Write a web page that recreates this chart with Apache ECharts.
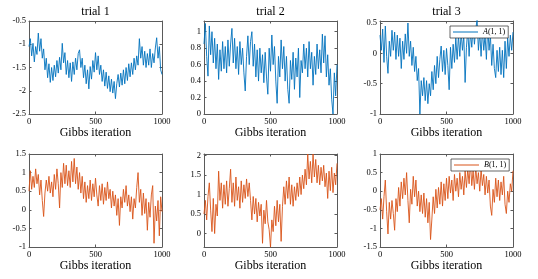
<!DOCTYPE html>
<html><head><meta charset="utf-8">
<script src="https://cdn.jsdelivr.net/npm/echarts@6/dist/echarts.min.js"></script>
<style>html,body{margin:0;padding:0;background:#fff}#c{width:538px;height:279px}</style>
</head><body><div id="c"></div>
<script>
const trialTitles = ['trial 1', 'trial 2', 'trial 3'];
const xLabel = 'Gibbs iteration';
const xTicks = [0, 500, 1000];
const seriesNames = ['A(1,1)', 'B(1,1)'];

// sampled every 10 Gibbs iterations (0..1000)
const A_trial1 = [-1.05,-0.88,-1.25,-0.98,-1.38,-1.05,-1.22,-0.76,-1.15,-0.88,-1.30,-1.10,-1.55,-1.30,-1.72,-1.42,-1.82,-1.50,-1.78,-1.45,-1.70,-1.35,-1.62,-1.28,-1.55,-0.98,-1.40,-1.18,-1.65,-1.35,-1.72,-1.40,-1.80,-1.38,-1.65,-1.30,-1.55,-1.20,-1.12,-1.50,-1.30,-1.72,-1.45,-1.85,-1.55,-1.96,-1.48,-1.75,-1.35,-1.60,-1.18,-1.55,-1.25,-1.65,-1.45,-1.80,-1.55,-1.90,-1.60,-1.95,-1.68,-2.02,-1.75,-2.05,-1.80,-2.17,-1.85,-1.65,-1.92,-1.62,-1.88,-1.55,-1.85,-1.50,-1.78,-1.42,-1.70,-1.40,-1.65,-1.30,-1.55,-1.25,-1.45,-0.88,-1.30,-1.05,-1.45,-1.15,-1.50,-1.20,-1.45,-1.10,-1.50,-1.20,-1.40,-1.08,-0.86,-1.30,-1.05,-1.55,-1.65];
const A_trial2 = [0.85,1.10,0.70,0.46,1.07,0.72,1.00,0.62,0.92,0.55,0.85,0.42,0.78,0.52,0.88,0.55,0.82,0.50,0.90,0.58,0.85,1.04,0.62,0.92,0.55,0.82,0.48,0.88,0.60,0.80,0.50,0.28,0.70,0.95,0.60,0.88,1.00,0.58,0.85,0.45,0.78,0.40,0.80,0.50,0.72,0.38,0.75,0.45,0.24,0.80,0.52,0.96,0.60,0.82,0.40,0.13,0.70,0.45,0.90,0.55,0.82,0.40,0.70,0.30,0.13,0.65,0.42,0.75,0.30,0.68,0.45,0.80,0.20,0.65,0.50,0.85,0.55,0.80,0.45,0.88,0.55,0.75,0.35,0.70,0.48,0.85,0.55,0.78,0.50,0.97,0.62,0.95,0.45,0.72,0.35,0.55,0.18,0.00,0.50,0.22,0.60];
const A_trial3 = [0.30,0.05,0.40,-0.15,0.45,-0.05,-0.33,0.20,-0.05,0.38,0.05,0.35,-0.10,0.30,-0.05,0.25,-0.25,0.20,-0.10,0.32,0.00,0.50,-0.05,0.20,-0.20,0.10,-0.30,-0.05,-0.45,-0.25,-1.00,-0.45,-0.70,-0.40,-0.78,-0.45,-0.83,-0.50,-0.70,-0.30,-0.60,-0.20,-0.50,-0.05,-0.40,-0.10,0.12,-0.30,0.05,-0.35,0.08,-0.20,-0.60,0.10,-0.25,0.15,-0.15,0.25,-0.10,0.30,-0.05,0.35,0.05,0.30,-0.48,0.10,0.40,-0.05,0.35,0.10,0.45,0.15,0.40,0.55,0.05,0.35,-0.05,0.40,0.05,0.30,-0.10,0.45,0.05,0.30,-0.20,0.15,-0.25,-0.40,0.05,-0.30,0.10,-0.35,0.05,-0.40,0.20,-0.25,0.25,-0.05,0.30,0.05,0.35];
const B_trial1 = [0.50,1.05,0.55,0.90,0.60,1.10,0.70,0.95,0.40,0.80,0.25,-0.18,0.45,0.80,0.50,0.90,0.45,0.75,0.35,0.95,0.55,1.10,0.70,0.05,1.00,0.60,1.25,0.70,1.20,0.65,1.05,0.60,1.30,0.75,1.38,0.70,1.15,0.55,1.00,0.45,0.90,0.30,0.75,0.20,0.65,0.30,0.80,0.25,0.70,0.35,0.85,0.40,0.10,0.65,0.25,0.70,0.15,0.60,0.25,0.75,0.30,0.55,0.05,0.50,0.10,0.40,-0.15,0.30,-0.42,0.35,0.05,0.55,0.20,0.65,0.10,0.40,-0.05,0.35,-0.25,0.30,0.05,0.60,1.00,0.20,0.55,-0.15,0.45,-0.10,0.30,-0.55,0.20,-0.20,0.40,0.65,-0.90,0.10,-0.30,0.25,-0.70,0.35,-0.05];
const B_trial2 = [0.50,0.85,0.35,0.95,1.30,0.60,0.05,0.90,0.00,0.75,0.45,1.60,0.85,1.30,0.65,1.25,0.75,1.35,0.70,1.15,1.65,0.80,1.30,0.70,1.45,0.85,1.20,0.65,1.35,0.80,1.25,0.90,1.40,0.95,1.30,0.85,0.35,0.95,0.50,0.90,0.30,0.80,0.45,0.75,-0.25,0.60,0.25,0.85,0.30,0.10,-0.35,0.35,0.05,0.70,0.20,0.85,0.30,0.75,-0.20,0.70,1.20,0.75,1.35,0.90,1.45,0.75,1.25,0.70,1.20,0.85,1.30,0.95,1.45,1.00,1.50,1.15,1.65,1.25,2.04,1.40,1.85,1.30,2.04,1.45,1.90,1.30,1.75,1.25,1.70,1.35,1.75,1.20,1.55,0.90,1.60,1.10,1.70,1.05,1.55,1.25,1.80];
const B_trial3 = [-0.50,-0.20,-0.75,-0.15,0.30,-0.55,-1.15,-0.30,-0.75,-0.25,-0.60,-1.05,-0.20,-0.55,0.10,-0.40,0.25,-0.20,0.35,-0.10,0.50,-0.25,-0.85,0.05,-0.35,0.40,-0.15,0.30,-0.40,0.00,-0.55,-0.10,-0.60,-0.05,-0.70,-0.20,-0.85,-0.30,-1.30,-0.75,-0.15,-0.60,0.05,-0.45,0.10,-0.35,0.25,-0.40,0.20,-0.25,0.35,-0.20,0.40,-0.05,0.30,-0.25,0.45,0.00,0.35,-0.15,0.50,0.05,0.40,-0.10,0.55,0.10,0.60,0.20,0.80,0.15,0.55,0.05,0.65,0.20,0.50,0.00,0.60,0.15,0.45,-0.10,0.40,-0.05,0.30,-0.40,-0.65,0.05,-0.30,0.35,-0.15,0.30,-0.25,0.25,-0.10,0.40,-0.35,-0.60,0.00,-0.30,0.20,0.00,0.55];

const iterations = A_trial1.map((_, i) => i * 10);

const yTicks = [
  [-2.5, -2, -1.5, -1, -0.5], [0, 0.2, 0.4, 0.6, 0.8, 1], [-1, -0.5, 0, 0.5],
  [-1, -0.5, 0, 0.5, 1, 1.5], [0, 0.5, 1, 1.5, 2], [-1.5, -1, -0.5, 0, 0.5, 1]
];
const yLimits = [[-2.5, -0.5], [0, 1.13], [-1, 0.533], [-1, 1.5], [-0.345, 2.04], [-1.5, 1]];

const panelData = [A_trial1, A_trial2, A_trial3, B_trial1, B_trial2, B_trial3];
const colors = ['#0072BD', '#D95319'];
const FONT = 'Liberation Serif';
const AX = '#5a5a5a';

const colLeft = [29, 204, 380];
const rowTop = [21, 154];
const W = 133, H = 93;
const plain = v => String(v);

const grid = [], xAxis = [], yAxis = [], series = [];
for (let p = 0; p < 6; p++) {
  const r = Math.floor(p / 3), c = p % 3;
  grid.push({left: colLeft[c], top: rowTop[r], width: W, height: H, containLabel: false, outerBoundsMode: 'none'});
  const lineStyle = {color: AX, width: 1};
  xAxis.push({
    type: 'value', gridIndex: p, position: 'bottom', min: 0, max: 1000,
    name: xLabel, nameLocation: 'middle', nameGap: 11,
    nameTextStyle: {fontFamily: FONT, fontSize: 12, color: '#000'},
    axisLine: {show: true, onZero: false, lineStyle},
    axisTick: {show: true, inside: true, length: 2.5, lineStyle, customValues: xTicks},
    axisLabel: {show: true, margin: 3, fontFamily: FONT, fontSize: 8.5, color: '#000', customValues: xTicks, formatter: plain},
    splitLine: {show: false}
  });
  xAxis.push({
    type: 'value', gridIndex: p, position: 'top', min: 0, max: 1000,
    name: r === 0 ? trialTitles[c] : '', nameLocation: 'middle', nameGap: 3,
    nameTextStyle: {fontFamily: FONT, fontSize: 12, color: '#000'},
    axisLine: {show: true, onZero: false, lineStyle},
    axisTick: {show: true, inside: true, length: 2.5, lineStyle, customValues: xTicks},
    axisLabel: {show: false, customValues: xTicks}, splitLine: {show: false}
  });
  yAxis.push({
    type: 'value', gridIndex: p, position: 'left', min: yLimits[p][0], max: yLimits[p][1],
    axisLine: {show: true, onZero: false, lineStyle},
    axisTick: {show: true, inside: true, length: 2.5, lineStyle, customValues: yTicks[p]},
    axisLabel: {show: true, margin: 3, fontFamily: FONT, fontSize: 8.5, color: '#000', customValues: yTicks[p], formatter: plain},
    splitLine: {show: false}
  });
  yAxis.push({
    type: 'value', gridIndex: p, position: 'right', min: yLimits[p][0], max: yLimits[p][1],
    axisLine: {show: true, onZero: false, lineStyle},
    axisTick: {show: true, inside: true, length: 2.5, lineStyle, customValues: yTicks[p]},
    axisLabel: {show: false, customValues: yTicks[p]}, splitLine: {show: false}
  });
  const vals = panelData[p];
  series.push({
    type: 'line', name: c === 2 ? seriesNames[r] : seriesNames[r] + ' ' + p,
    xAxisIndex: 2 * p, yAxisIndex: 2 * p,
    data: iterations.map((x, i) => [x, vals[i]]),
    symbol: 'none', showSymbol: false, animation: false,
    lineStyle: {color: colors[r], width: 0.9}, itemStyle: {color: colors[r]}
  });
}

const legendCommon = {
  orient: 'horizontal', icon: 'rect', itemWidth: 25, itemHeight: 1, itemGap: 4,
  padding: [2, 3, 2, 3], borderColor: '#262626', borderWidth: 0.7, backgroundColor: '#fff',
  selectedMode: false,
  textStyle: {fontFamily: FONT, fontSize: 8, color: '#000', rich: {i: {fontFamily: FONT, fontSize: 8, fontStyle: 'italic', color: '#000'}}},
  formatter: n => '{i|' + n.charAt(0) + '}(1, 1)'
};
const legend = [
  Object.assign({}, legendCommon, {data: [seriesNames[0]], left: 450, top: 26}),
  Object.assign({}, legendCommon, {data: [seriesNames[1]], left: 451, top: 159})
];

const chart = echarts.init(document.getElementById('c'), null, {renderer: 'canvas'});
chart.setOption({animation: false, backgroundColor: '#fff', grid, xAxis, yAxis, series, legend});
</script>
</body></html>
